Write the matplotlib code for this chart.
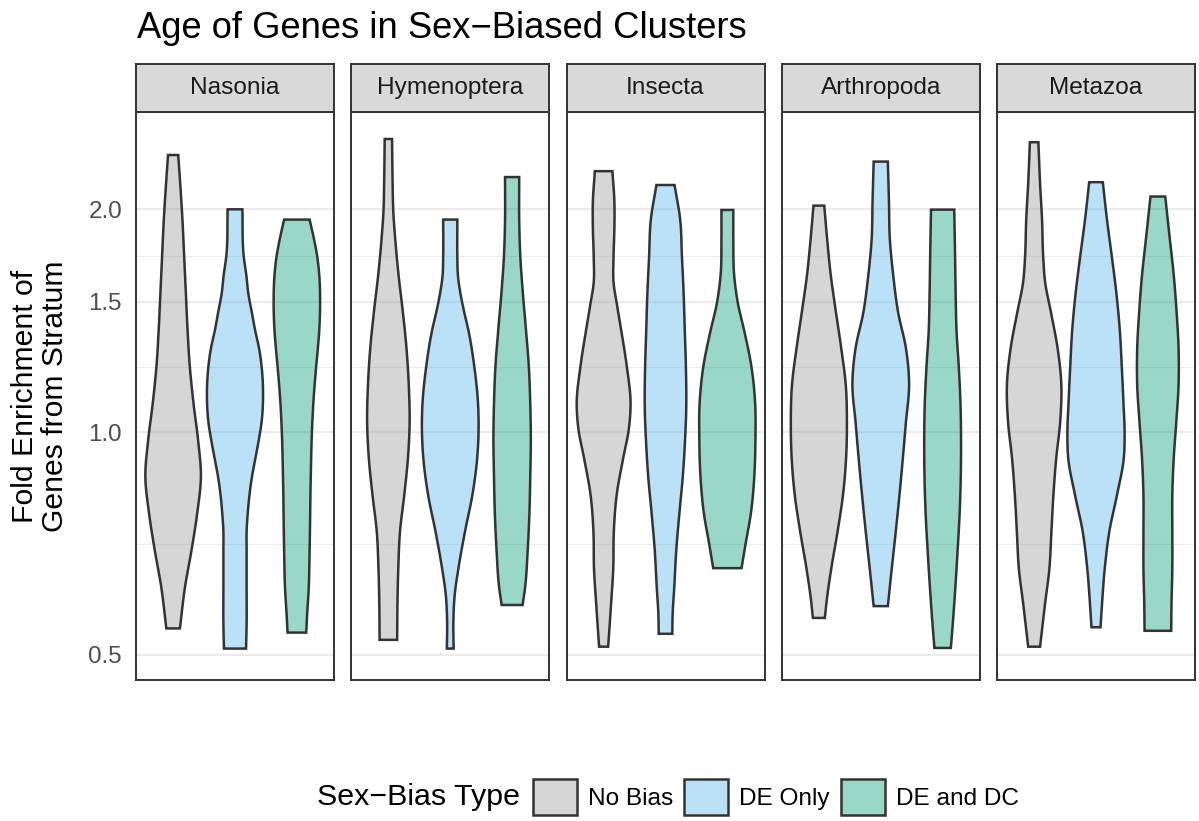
import numpy as np
import matplotlib.pyplot as plt
from matplotlib.colors import to_rgba
from matplotlib.patches import Patch
from matplotlib.ticker import FixedLocator, NullFormatter

plt.rcParams['font.family'] = ['Liberation Sans', 'DejaVu Sans']

clades = ["Nasonia", "Hymenoptera", "Insecta", "Arthropoda", "Metazoa"]
bias_types = ["No Bias", "DE Only", "DE and DC"]
fills = ["#999999", "#56B4E9", "#009E73"]
y_breaks = [0.5, 1.0, 1.5, 2.0]

# violin outlines: fold enrichment levels (top -> bottom)
# and relative density at each level, one list per bias type
nasonia_y = [
    [2.368, 2.166, 1.933, 1.725, 1.539, 1.373, 1.225, 1.093, 0.976, 0.871, 0.777, 0.693, 0.618, 0.543],
    [2.000, 1.725, 1.629, 1.539, 1.454, 1.373, 1.297, 1.225, 1.118, 1.033, 0.976, 0.922, 0.871, 0.822,
     0.777, 0.734, 0.693, 0.618, 0.552, 0.510],
    [1.937, 1.826, 1.725, 1.629, 1.504, 1.373, 1.297, 1.225, 1.093, 0.998, 0.871, 0.693, 0.618, 0.565, 0.536],
]
nasonia_d = [
    [0.18, 0.25, 0.33, 0.39, 0.45, 0.51, 0.59, 0.72, 0.88, 0.98, 0.85, 0.65, 0.42, 0.24],
    [0.26, 0.31, 0.40, 0.47, 0.59, 0.71, 0.85, 0.94, 0.99, 0.94, 0.84, 0.72, 0.60, 0.51,
     0.45, 0.41, 0.41, 0.41, 0.41, 0.39],
    [0.45, 0.60, 0.72, 0.79, 0.82, 0.79, 0.74, 0.68, 0.58, 0.53, 0.49, 0.45, 0.42, 0.36, 0.33],
]

hymenoptera_y = [
    [2.489, 2.166, 2.000, 1.826, 1.629, 1.454, 1.297, 1.157, 1.033, 0.922, 0.822, 0.734, 0.655, 0.584, 0.524],
    [1.937, 1.725, 1.629, 1.539, 1.454, 1.373, 1.225, 1.093, 1.010, 0.922, 0.822, 0.734, 0.655, 0.604,
     0.552, 0.510],
    [2.211, 1.933, 1.725, 1.539, 1.373, 1.225, 1.093, 0.976, 0.871, 0.777, 0.693, 0.618, 0.584],
]
hymenoptera_d = [
    [0.13, 0.15, 0.17, 0.24, 0.36, 0.51, 0.64, 0.72, 0.75, 0.69, 0.56, 0.41, 0.35, 0.32, 0.31],
    [0.25, 0.25, 0.27, 0.36, 0.49, 0.64, 0.85, 0.98, 1.00, 0.95, 0.78, 0.52, 0.29, 0.16, 0.11, 0.12],
    [0.25, 0.25, 0.29, 0.38, 0.49, 0.59, 0.64, 0.66, 0.64, 0.61, 0.55, 0.46, 0.37],
]

insecta_y = [
    [2.252, 2.046, 1.889, 1.725, 1.593, 1.487, 1.373, 1.225, 1.093, 1.010, 0.922, 0.822, 0.734, 0.655,
     0.584, 0.533, 0.513],
    [2.157, 1.933, 1.725, 1.539, 1.373, 1.225, 1.069, 0.976, 0.871, 0.777, 0.693, 0.618, 0.565, 0.534],
    [1.996, 1.826, 1.629, 1.487, 1.373, 1.225, 1.093, 0.976, 0.871, 0.777, 0.709, 0.655],
]
insecta_d = [
    [0.31, 0.38, 0.38, 0.35, 0.35, 0.47, 0.62, 0.82, 0.95, 0.89, 0.69, 0.46, 0.36, 0.34, 0.26, 0.19, 0.16],
    [0.32, 0.52, 0.58, 0.64, 0.68, 0.72, 0.73, 0.69, 0.61, 0.49, 0.38, 0.31, 0.25, 0.24],
    [0.21, 0.21, 0.24, 0.38, 0.59, 0.85, 0.98, 0.99, 0.95, 0.83, 0.65, 0.50],
]

arthropoda_y = [
    [2.023, 1.826, 1.629, 1.454, 1.297, 1.157, 1.033, 0.922, 0.822, 0.734, 0.655, 0.598, 0.561],
    [2.320, 2.046, 1.826, 1.629, 1.454, 1.297, 1.157, 1.033, 0.922, 0.822, 0.734, 0.655, 0.582],
    [1.998, 1.725, 1.539, 1.373, 1.225, 1.093, 0.976, 0.871, 0.777, 0.693, 0.618, 0.552, 0.511],
]
arthropoda_d = [
    [0.19, 0.29, 0.42, 0.60, 0.79, 0.95, 0.99, 0.96, 0.85, 0.66, 0.44, 0.29, 0.21],
    [0.25, 0.29, 0.32, 0.44, 0.61, 0.89, 1.00, 0.89, 0.78, 0.66, 0.53, 0.39, 0.25],
    [0.41, 0.44, 0.46, 0.49, 0.57, 0.63, 0.65, 0.64, 0.60, 0.53, 0.45, 0.36, 0.29],
]

metazoa_y = [
    [2.464, 2.166, 1.933, 1.725, 1.593, 1.454, 1.297, 1.157, 1.033, 0.922, 0.822, 0.734, 0.655, 0.584,
     0.533, 0.513],
    [2.176, 1.933, 1.725, 1.539, 1.373, 1.225, 1.093, 0.998, 0.922, 0.822, 0.734, 0.655, 0.584, 0.545],
    [2.081, 1.826, 1.629, 1.454, 1.297, 1.157, 1.033, 0.922, 0.822, 0.734, 0.655, 0.584, 0.539],
]
metazoa_d = [
    [0.15, 0.21, 0.28, 0.32, 0.39, 0.59, 0.83, 0.96, 0.92, 0.78, 0.68, 0.61, 0.54, 0.38, 0.26, 0.21],
    [0.24, 0.39, 0.56, 0.72, 0.84, 0.91, 0.97, 1.01, 0.98, 0.74, 0.47, 0.31, 0.21, 0.16],
    [0.26, 0.42, 0.56, 0.66, 0.73, 0.73, 0.65, 0.56, 0.51, 0.51, 0.51, 0.48, 0.47],
]

levels = [nasonia_y, hymenoptera_y, insecta_y, arthropoda_y, metazoa_y]
density = [nasonia_d, hymenoptera_d, insecta_d, arthropoda_d, metazoa_d]


def smooth_outline(ys, ds, n=300):
    # cubic hermite through the read points, in log space
    t = np.log(np.asarray(ys, float))[::-1]
    d = np.asarray(ds, float)[::-1]
    m = np.gradient(d, t)
    tt = np.linspace(t[0], t[-1], n)
    i = np.clip(np.searchsorted(t, tt) - 1, 0, len(t) - 2)
    h = t[i + 1] - t[i]
    s = (tt - t[i]) / h
    w = ((2 * s**3 - 3 * s**2 + 1) * d[i] + (s**3 - 2 * s**2 + s) * h * m[i]
         + (-2 * s**3 + 3 * s**2) * d[i + 1] + (s**3 - s**2) * h * m[i + 1])
    return np.exp(tt), np.clip(w, 0, None)


W, H = 1199, 821
fig = plt.figure(figsize=(W / 100, H / 100), dpi=100)

line_col = "#333333"
minor_breaks = np.sqrt(np.array(y_breaks[:-1]) * np.array(y_breaks[1:]))

for k, clade in enumerate(clades):
    left = (136 + k * 215.25) / W
    ax = fig.add_axes([left, 1 - 680 / H, 198 / W, 568 / H])
    ax.set_yscale("log")
    ax.set_ylim(0.4625, 2.707)
    ax.set_xlim(0.4, 3.6)
    ax.yaxis.set_major_locator(FixedLocator(y_breaks))
    ax.yaxis.set_minor_locator(FixedLocator(minor_breaks))
    ax.yaxis.set_minor_formatter(NullFormatter())
    ax.set_yticklabels([f"{b:.1f}" for b in y_breaks])
    ax.grid(which="major", axis="y", color="#EBEBEB", lw=1.6)
    ax.grid(which="minor", axis="y", color="#EBEBEB", lw=0.8)
    ax.set_axisbelow(True)
    ax.set_xticks([])
    ax.tick_params(axis="y", which="both", length=0, pad=10,
                   labelsize=17.4, labelcolor="#4D4D4D")
    if k > 0:
        ax.tick_params(axis="y", labelleft=False)
    for sp in ax.spines.values():
        sp.set_color(line_col)
        sp.set_linewidth(1.4)

    for g in range(3):
        yy, w = smooth_outline(levels[k][g], density[k][g])
        hw = 0.458 * w
        xs = np.concatenate([g + 1 - hw, (g + 1 + hw)[::-1]])
        ys = np.concatenate([yy, yy[::-1]])
        ax.fill(xs, ys, facecolor=to_rgba(fills[g], 0.4), edgecolor=line_col,
                lw=1.8, zorder=3)

    # facet strip
    sax = fig.add_axes([left, 1 - 112 / H, 198 / W, 48 / H])
    sax.set_facecolor("#D9D9D9")
    sax.set_xticks([])
    sax.set_yticks([])
    for sp in sax.spines.values():
        sp.set_color(line_col)
        sp.set_linewidth(1.4)
    sax.text(0.5, 0.5, clade, ha="center", va="center", fontsize=17.6,
             color="#1A1A1A", transform=sax.transAxes)

fig.text(137 / W, 1 - 38 / H, "Age of Genes in Sex\u2212Biased Clusters",
         fontsize=26.2, ha="left", va="baseline")
fig.text(40 / W, 1 - 396 / H, "Fold Enrichment of\nGenes from Stratum",
         rotation=90, ha="center", va="center", fontsize=21.7,
         multialignment="center", linespacing=1.12)

fig.text(317 / W, 1 - 797 / H, "Sex\u2212Bias Type", fontsize=21.9,
         ha="left", va="center")
handles = [Patch(facecolor=to_rgba(c, 0.4), edgecolor=line_col, lw=1.8) for c in fills]
fig.legend(handles, bias_types, loc="center left",
           bbox_to_anchor=(533 / W, 1 - 797 / H), ncol=3, frameon=False,
           fontsize=17.6, handlelength=1.8, handleheight=1.85,
           handletextpad=0.45, columnspacing=0.45, borderpad=0, borderaxespad=0)

fig.savefig("out.png", dpi=100)
